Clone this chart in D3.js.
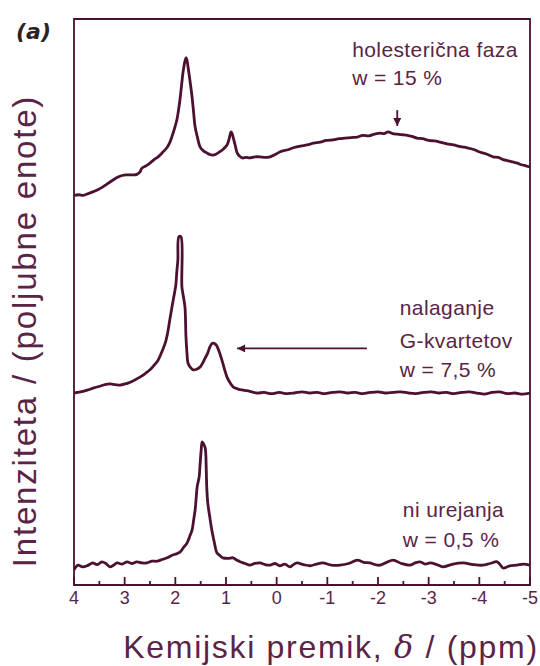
<!DOCTYPE html>
<html><head><meta charset="utf-8">
<script src="https://cdn.jsdelivr.net/npm/d3@7"></script>
<style>
html,body{margin:0;padding:0;background:#fff;}
svg{display:block;}
</style></head>
<body>
<script>
// ---- data (chemical shift in ppm, intensity in arbitrary units) ----
const ticksMajor = [4, 3, 2, 1, 0, -1, -2, -3, -4, -5];
const ticksMinor = [3.5, 2.5, 1.5, 0.5, -0.5, -1.5, -2.5, -3.5, -4.5];

// w = 15 % (cholesteric phase)
const ppm15 = [4.00,3.90,3.82,3.72,3.63,3.53,3.43,3.33,3.23,3.14,3.05,2.97,2.89,2.82,2.76,2.70,2.66,2.58,2.50,2.42,2.34,2.25,2.16,2.11,2.07,2.02,1.97,1.94,1.91,1.88,1.85,1.82,1.79,1.77,1.75,1.71,1.67,1.64,1.61,1.56,1.51,1.44,1.38,1.32,1.26,1.19,1.12,1.05,0.98,0.94,0.90,0.88,0.86,0.82,0.78,0.73,0.68,0.60,0.53,0.43,0.33,0.23,0.13,0.03,-0.07,-0.20,-0.33,-0.47,-0.60,-0.73,-0.86,-0.98,-1.11,-1.23,-1.35,-1.47,-1.59,-1.70,-1.82,-1.93,-2.04,-2.12,-2.20,-2.29,-2.38,-2.48,-2.58,-2.67,-2.77,-2.88,-3.00,-3.11,-3.22,-3.36,-3.49,-3.63,-3.76,-3.89,-4.02,-4.14,-4.27,-4.37,-4.47,-4.57,-4.66,-4.75,-4.83,-4.92,-5.00];
const int15 = [0.03,0.04,0.03,0.06,0.09,0.13,0.18,0.24,0.30,0.35,0.38,0.39,0.39,0.39,0.40,0.44,0.51,0.55,0.60,0.66,0.71,0.79,0.88,0.96,1.06,1.20,1.36,1.52,1.71,1.95,2.19,2.36,2.46,2.42,2.30,2.05,1.77,1.50,1.24,1.04,0.88,0.81,0.78,0.75,0.74,0.76,0.80,0.85,0.92,1.02,1.15,1.12,1.06,0.92,0.78,0.72,0.69,0.70,0.69,0.71,0.71,0.70,0.71,0.75,0.80,0.83,0.87,0.90,0.92,0.95,0.97,1.00,1.01,1.03,1.04,1.05,1.06,1.09,1.08,1.11,1.13,1.12,1.15,1.12,1.11,1.10,1.09,1.07,1.04,1.03,1.00,0.99,0.97,0.94,0.92,0.89,0.87,0.84,0.79,0.76,0.71,0.70,0.66,0.64,0.62,0.60,0.57,0.55,0.53];

// w = 7,5 % (G-quartet stacking)
const ppm75 = [4.00,3.87,3.74,3.61,3.49,3.39,3.29,3.19,3.09,2.99,2.89,2.80,2.70,2.60,2.50,2.42,2.34,2.27,2.20,2.15,2.11,2.07,2.03,2.01,1.99,1.97,1.95,1.93,1.89,1.87,1.84,1.81,1.79,1.77,1.75,1.70,1.65,1.58,1.51,1.46,1.41,1.36,1.32,1.29,1.26,1.22,1.18,1.13,1.08,1.03,0.98,0.92,0.86,0.76,0.66,0.53,0.39,0.25,0.10,-0.05,-0.20,-0.35,-0.50,-0.65,-0.80,-0.95,-1.10,-1.25,-1.40,-1.55,-1.70,-1.85,-2.00,-2.15,-2.30,-2.45,-2.60,-2.75,-2.90,-3.05,-3.20,-3.35,-3.50,-3.65,-3.80,-3.95,-4.10,-4.25,-4.40,-4.55,-4.70,-4.85,-5.00];
const int75 = [0.00,0.02,0.05,0.09,0.12,0.15,0.16,0.15,0.14,0.16,0.19,0.23,0.28,0.34,0.41,0.49,0.58,0.72,0.88,1.07,1.29,1.50,1.70,1.80,1.91,2.15,2.35,2.76,2.76,1.87,1.70,1.52,0.99,0.70,0.53,0.45,0.41,0.42,0.46,0.53,0.62,0.71,0.81,0.86,0.88,0.87,0.83,0.72,0.58,0.42,0.28,0.18,0.11,0.07,0.05,0.03,0.00,0.01,-0.01,0.01,-0.01,0.00,0.02,0.00,0.01,-0.01,0.01,0.02,0.00,0.01,-0.01,0.01,0.02,0.00,0.01,0.02,0.00,-0.01,0.01,0.02,0.00,0.01,-0.01,0.01,0.02,0.00,-0.02,0.01,0.02,-0.01,0.00,-0.02,0.00];

// w = 0,5 % (no ordering)
const ppm05 = [4.00,3.96,3.92,3.83,3.74,3.68,3.63,3.54,3.45,3.37,3.29,3.22,3.15,3.05,2.95,2.86,2.76,2.66,2.56,2.46,2.36,2.26,2.16,2.10,2.05,1.98,1.91,1.84,1.77,1.72,1.67,1.64,1.61,1.59,1.57,1.55,1.53,1.51,1.49,1.47,1.44,1.41,1.39,1.38,1.36,1.32,1.28,1.23,1.18,1.12,1.06,0.96,0.86,0.79,0.72,0.62,0.53,0.43,0.33,0.23,0.13,0.03,-0.06,-0.16,-0.26,-0.33,-0.40,-0.53,-0.66,-0.79,-0.91,-1.08,-1.25,-1.42,-1.59,-1.72,-1.84,-1.94,-2.04,-2.17,-2.30,-2.46,-2.63,-2.73,-2.83,-2.93,-3.03,-3.16,-3.28,-3.48,-3.68,-3.88,-4.07,-4.21,-4.35,-4.41,-4.47,-4.60,-4.74,-4.87,-5.00];
const int05 = [-0.03,0.02,0.05,0.02,0.04,0.07,0.09,0.06,0.11,0.08,0.02,0.05,0.09,0.07,0.11,0.08,0.11,0.09,0.09,0.12,0.12,0.15,0.18,0.21,0.23,0.25,0.28,0.36,0.44,0.55,0.67,0.84,1.02,1.22,1.43,1.52,1.61,1.85,2.08,2.23,2.19,2.12,1.75,1.43,1.15,0.90,0.67,0.45,0.27,0.22,0.18,0.17,0.18,0.14,0.11,0.08,0.05,0.08,0.09,0.06,0.05,0.08,0.04,0.07,0.02,0.06,0.09,0.06,0.04,0.07,0.09,0.05,0.05,0.08,0.14,0.10,0.09,0.06,0.05,0.10,0.14,0.08,0.05,0.09,0.11,0.07,0.09,0.06,0.02,0.07,0.09,0.06,0.05,0.08,0.11,0.06,0.00,0.04,0.05,0.07,0.05];

const offsets = [6.855, 3.392, 0.30];
const seriesPpm = [ppm15, ppm75, ppm05];
const seriesInt = [int15, int75, int05];

const labels15 = ["holesterična faza", "w = 15 %"];
const labels75 = ["nalaganje", "G-kvartetov", "w = 7,5 %"];
const labels05 = ["ni urejanja", "w = 0,5 %"];

// ---- layout ----
const W = 540, H = 666;
const M = {left: 74, top: 19, right: 530, bottom: 585};
const lineColor = "#4c1030";
const textColor = "#5a2446";
const sans = "'Liberation Sans', Arial, sans-serif";
const frameW = 1.8;

const svg = d3.select("body").append("svg")
  .attr("width", W).attr("height", H);
const defs = svg.append("defs");

const xs = d3.scaleLinear().domain([4, -5]).range([M.left, M.right]);
const ys = d3.scaleLinear().domain([0, 10]).range([M.bottom, M.top]);

defs.append("clipPath").attr("id", "plotclip")
  .append("rect").attr("x", M.left).attr("y", M.top)
  .attr("width", M.right - M.left).attr("height", M.bottom - M.top);
defs.append("clipPath").attr("id", "pageclip")
  .append("rect").attr("x", 0).attr("y", 0).attr("width", W).attr("height", H);

const root = svg.append("g").attr("clip-path", "url(#pageclip)");

const pL = xs(4), pR = xs(-5), pB = ys(0), pT = ys(10);

// frame
root.append("path")
  .attr("class", "frame")
  .attr("clip-path", "url(#pageclip)")
  .attr("d", `M${pL},${pT}L${pR},${pT}L${pR},${pB}L${pL},${pB}Z`)
  .attr("fill", "none")
  .attr("stroke", lineColor)
  .attr("stroke-width", frameW);

// x axis ticks (inward)
const tickPath = ticksMajor.map(d => `M${xs(d)},${pB}L${xs(d)},${pB - 8}`).join("") +
                 ticksMinor.map(d => `M${xs(d)},${pB}L${xs(d)},${pB - 4}`).join("");
root.append("path")
  .attr("class", "ticks")
  .attr("clip-path", "url(#pageclip)")
  .attr("d", tickPath)
  .attr("fill", "none")
  .attr("stroke", lineColor)
  .attr("stroke-width", frameW);

root.append("g").selectAll("text").data(ticksMajor).join("text")
  .attr("x", d => xs(d)).attr("y", pB + 19)
  .attr("text-anchor", "middle")
  .attr("fill", textColor)
  .style("font-family", sans).style("font-size", "18px")
  .text(d => String(d));

// traces
const lineGen = d3.line().x(d => xs(d[0])).y(d => ys(d[1])).curve(d3.curveCatmullRom.alpha(0.5));
seriesPpm.forEach((p, i) => {
  const pts = p.map((v, j) => [v, offsets[i] + seriesInt[i][j]]);
  root.append("path")
    .attr("clip-path", "url(#plotclip)")
    .attr("d", lineGen(pts))
    .attr("fill", "none")
    .attr("stroke", lineColor)
    .attr("stroke-width", 2.8)
    .attr("stroke-linejoin", "round");
});

// axis titles
const xt = root.append("text")
  .attr("x", 331).attr("y", 658)
  .attr("text-anchor", "middle")
  .attr("fill", textColor)
  .style("font-family", sans).style("font-size", "32px").style("letter-spacing", "1.7px");
xt.append("tspan").text("Kemijski premik, ");
xt.append("tspan").text("δ").style("font-family", "'DejaVu Serif', serif").style("font-style", "italic");
xt.append("tspan").text(" / (ppm)");

root.append("text")
  .attr("transform", "translate(36,331) rotate(-90)")
  .attr("text-anchor", "middle")
  .attr("fill", textColor)
  .style("font-family", sans).style("font-size", "33px").style("letter-spacing", "1.8px")
  .text("Intenziteta / (poljubne enote)");

// panel label
root.append("text")
  .attr("x", 16).attr("y", 39)
  .attr("fill", "#2b2228")
  .style("font-family", "'DejaVu Sans', sans-serif").style("font-size", "22px")
  .style("font-weight", "bold").style("font-style", "italic")
  .text("(a)");

// annotations
function annot(lines, ppmX, yv) {
  lines.forEach((t, i) => {
    root.append("text").attr("x", xs(ppmX)).attr("y", ys(yv[i]))
      .attr("fill", textColor)
      .style("font-family", sans).style("font-size", "21px").style("letter-spacing", "0.4px")
      .text(t);
  });
}
annot(labels15, -1.49, [9.33, 8.83]);
annot(labels75, -2.43, [4.77, 4.19, 3.68]);
annot(labels05, -2.49, [1.20, 0.67]);

// arrows
defs.append("marker")
  .attr("id", "ah").attr("viewBox", "0 0 10 10").attr("refX", 10).attr("refY", 5)
  .attr("markerWidth", 10).attr("markerHeight", 8).attr("markerUnits", "userSpaceOnUse")
  .attr("orient", "auto")
  .append("path").attr("d", "M0,0 L10,5 L0,10 Z").attr("fill", lineColor);

root.append("line")
  .attr("x1", xs(-2.38)).attr("x2", xs(-2.38))
  .attr("y1", ys(8.39)).attr("y2", ys(8.11))
  .attr("stroke", lineColor).attr("stroke-width", 1.8).attr("marker-end", "url(#ah)");

root.append("line")
  .attr("x1", xs(-1.78)).attr("x2", xs(0.78))
  .attr("y1", ys(4.18)).attr("y2", ys(4.18))
  .attr("stroke", lineColor).attr("stroke-width", 1.8).attr("marker-end", "url(#ah)");
</script>
</body></html>
